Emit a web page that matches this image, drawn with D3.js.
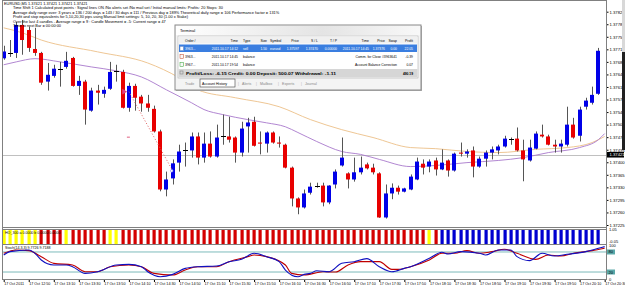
<!DOCTYPE html>
<html>
<head>
<meta charset="utf-8">
<script src="https://cdnjs.cloudflare.com/ajax/libs/d3/7.8.5/d3.min.js"></script>
<style>
  body { margin: 0; background: #fff; }
  text { font-family: "Liberation Sans", Arial, sans-serif; }
</style>
</head>
<body>
<div id="chart"></div>
<script>
const W = 625, H = 285;

// EURUSD M5, 17 Oct 2011, bars 12:30 .. 20:25
const openP  = [1.37690,1.37706,1.37705,1.37783,1.37769,1.37716,1.37705,1.37625,1.37641,1.37660,1.37666,1.37691,1.37613,1.37625,1.37544,1.37600,1.37591,1.37605,1.37655,1.37652,1.37552,1.37613,1.37583,1.37564,1.37549,1.37486,1.37324,1.37355,1.37399,1.37433,1.37433,1.37472,1.37413,1.37452,1.37416,1.37472,1.37472,1.37469,1.37427,1.37500,1.37513,1.37455,1.37452,1.37483,1.37455,1.37449,1.37385,1.37299,1.37274,1.37315,1.37335,1.37335,1.37288,1.37338,1.37391,1.37369,1.37352,1.37372,1.37394,1.37385,1.37369,1.37246,1.37313,1.37329,1.37318,1.37324,1.37352,1.37396,1.37388,1.37405,1.37380,1.37405,1.37377,1.37427,1.37424,1.37433,1.37388,1.37410,1.37427,1.37433,1.37444,1.37466,1.37466,1.37433,1.37405,1.37438,1.37477,1.37472,1.37449,1.37444,1.37449,1.37505,1.37474,1.37555,1.37566,1.37591];
const highP  = [1.37725,1.37741,1.37791,1.37797,1.37778,1.37775,1.37708,1.37677,1.37672,1.37680,1.37708,1.37694,1.37641,1.37630,1.37608,1.37616,1.37611,1.37680,1.37672,1.37658,1.37622,1.37619,1.37588,1.37588,1.37558,1.37491,1.37374,1.37408,1.37449,1.37455,1.37483,1.37483,1.37483,1.37486,1.37505,1.37533,1.37527,1.37472,1.37513,1.37524,1.37527,1.37486,1.37486,1.37486,1.37472,1.37452,1.37388,1.37302,1.37324,1.37343,1.37343,1.37343,1.37336,1.37380,1.37469,1.37372,1.37413,1.37416,1.37399,1.37396,1.37372,1.37338,1.37341,1.37335,1.37329,1.37366,1.37413,1.37408,1.37408,1.37413,1.37436,1.37408,1.37427,1.37455,1.37436,1.37444,1.37416,1.37433,1.37444,1.37449,1.37474,1.37469,1.37497,1.37463,1.37463,1.37486,1.37505,1.37477,1.37463,1.37463,1.37555,1.37524,1.37555,1.37580,1.37611,1.37719];
const lowP   = [1.37686,1.37694,1.37691,1.37700,1.37708,1.37697,1.37616,1.37600,1.37636,1.37611,1.37661,1.37611,1.37588,1.37505,1.37541,1.37561,1.37580,1.37602,1.37625,1.37550,1.37541,1.37544,1.37541,1.37541,1.37483,1.37319,1.37305,1.37338,1.37374,1.37388,1.37413,1.37394,1.37399,1.37413,1.37413,1.37449,1.37455,1.37399,1.37416,1.37427,1.37444,1.37422,1.37427,1.37452,1.37441,1.37383,1.37277,1.37255,1.37271,1.37310,1.37329,1.37277,1.37283,1.37327,1.37388,1.37327,1.37346,1.37366,1.37380,1.37366,1.37245,1.37243,1.37297,1.37310,1.37316,1.37322,1.37350,1.37366,1.37372,1.37363,1.37378,1.37360,1.37374,1.37416,1.37413,1.37358,1.37385,1.37388,1.37408,1.37422,1.37441,1.37449,1.37430,1.37347,1.37402,1.37436,1.37469,1.37447,1.37427,1.37427,1.37444,1.37466,1.37458,1.37547,1.37561,1.37588];
const closeP = [1.37709,1.37706,1.37783,1.37741,1.37719,1.37705,1.37622,1.37644,1.37661,1.37660,1.37683,1.37613,1.37627,1.37547,1.37600,1.37594,1.37602,1.37652,1.37655,1.37552,1.37613,1.37580,1.37564,1.37552,1.37486,1.37324,1.37352,1.37397,1.37430,1.37433,1.37472,1.37413,1.37452,1.37416,1.37469,1.37472,1.37463,1.37427,1.37494,1.37511,1.37446,1.37452,1.37483,1.37455,1.37452,1.37385,1.37299,1.37274,1.37313,1.37332,1.37335,1.37288,1.37335,1.37374,1.37413,1.37352,1.37372,1.37385,1.37383,1.37372,1.37246,1.37313,1.37329,1.37318,1.37327,1.37360,1.37402,1.37385,1.37402,1.37380,1.37399,1.37377,1.37424,1.37424,1.37430,1.37388,1.37410,1.37427,1.37436,1.37444,1.37466,1.37466,1.37433,1.37408,1.37441,1.37480,1.37472,1.37449,1.37444,1.37452,1.37505,1.37469,1.37547,1.37572,1.37588,1.37711];

// moving averages read at a few bars: [bar, price]
const maSlow = [[0,1.37775],[3,1.37761],[6,1.37741],[15,1.37708],[23,1.37677],[28,1.37636],[31,1.37602],[37,1.37580],[44,1.37555],[49,1.37519],[54,1.37491],[59,1.37469],[65,1.37441],[69,1.37438],[74,1.37430],[79,1.37427],[85,1.37436],[90,1.37441],[94,1.37455],[96,1.37472]];
const maFast = [[0,1.37672],[2,1.37680],[5,1.37689],[9,1.37680],[14,1.37666],[18,1.37655],[22,1.37638],[26,1.37602],[30,1.37566],[32,1.37547],[35,1.37533],[39,1.37519],[42,1.37510],[45,1.37499],[47,1.37483],[50,1.37458],[54,1.37430],[57,1.37422],[60,1.37408],[65,1.37388],[69,1.37391],[74,1.37399],[79,1.37405],[83,1.37413],[87,1.37427],[92,1.37441],[95,1.37463],[96,1.37480]];

// closed sell trade
const trade = { openBar: 20, openPrice: 1.37597, closeBar: 27, closePrice: 1.37376, sl: 1.37470 };
const bidPrice = 1.37421;

// signal histogram state per bar: Y yellow, R red, B blue
const signalState = "YYYYYYRRRRYRRRRRRYYRRRRRRRRRRRRRRRRRRRRRRRRRRRRRRRRRRRRRRRRRRRRRRRRRYRBBBBBBBBBBBBBBBBBBBBBBBBBB".split("");

// stochastic main / signal: [bar, value]
const stochMain = [[0,71],[1,81],[4,86],[5,76],[6,56],[8,41],[10,41],[11,36],[13,16],[15,21],[18,41],[20,43],[22,36],[23,21],[25,6],[27,13],[29,31],[31,36],[34,38],[36,51],[38,58],[40,76],[42,66],[44,51],[45,26],[47,6],[48,13],[49,16],[50,24],[52,21],[54,46],[56,51],[58,60],[60,36],[62,21],[64,31],[65,36],[68,61],[70,79],[71,74],[73,81],[76,76],[77,71],[79,86],[81,86],[82,66],[84,54],[86,76],[88,68],[90,73],[93,81],[95,91],[96,96]];
const stochSignal = [[0,76],[2,86],[4,84],[6,66],[8,46],[11,41],[13,21],[15,21],[17,36],[20,41],[22,36],[24,16],[27,11],[29,26],[31,36],[34,36],[36,51],[39,66],[40,71],[42,66],[45,41],[46,16],[48,11],[51,21],[53,20],[55,41],[57,51],[60,51],[62,28],[63,28],[65,36],[68,56],[70,76],[72,76],[74,84],[76,76],[78,81],[80,88],[82,76],[85,58],[87,71],[89,68],[91,76],[94,84],[96,91]];

const priceTicks = d3.range(0, 18).map(k => +(1.37820 - k * 0.00035).toFixed(5));
const timeLabels = ["17 Oct 2011","17 Oct 12:50","17 Oct 13:10","17 Oct 13:30","17 Oct 13:50","17 Oct 14:10","17 Oct 14:30","17 Oct 14:50","17 Oct 15:10","17 Oct 15:30","17 Oct 15:50","17 Oct 16:10","17 Oct 16:30","17 Oct 16:50","17 Oct 17:10","17 Oct 17:30","17 Oct 17:50","17 Oct 18:10","17 Oct 18:30","17 Oct 18:50","17 Oct 19:10","17 Oct 19:30","17 Oct 19:50","17 Oct 20:10","17 Oct 20:30"];

const headerLines = [
  "EURUSD,M5  1.37421 1.37421 1.37421 1.37421",
  "Time Shift 1 Calculated pivot points : Signal lines ON /No alerts set /No mail set / Initial manual limits: Profits: 20  Stops: 30",
  "Average daily range over: 3 years = 136 / 200 days = 143 / 30 days = 111 / Previous day = 189%  Theoretical daily range = 106 Performance factor = 131%",
  "Profit and stop equivalents for 5,10,20,30 pips using Manual limit settings: 5, 10, 20, 30 (1.00 x Stake)",
  "Over the last 4 candles - Average range = 9 : Candle Movement = -5: Current range = 47",
  "Time to next Bar = 00:00:00"
];

// terminal history table
const termHeader = ["Order  /", "Time", "Type", "Size", "Symbol", "Price", "S / L", "T / P", "Time", "Price", "Swap", "Profit"];
const termRows = [
  ["3963...", "2011.10.17 14:12", "sell", "1.50", "eurusd", "1.37597", "1.37470", "0.00000", "2011.10.17 14:45", "1.37376", "0.00", "22.05"],
  ["3963...", "2011.10.17 14:45", "balance", "", "", "", "", "", "", "", "Comm. for Close #3963641", "-0.39"],
  ["3967...", "2011.10.17 19:54", "balance", "", "", "", "", "", "", "", "Account Balance Correction", "0.07"]
];
const termSummary = ["Profit/Loss: -6.15  Credit: 0.00  Deposit: 500.07  Withdrawal: -1.11", "490.19"];
const termTabs = ["Trade", "Account History", "Alerts", "Mailbox", "Experts", "Journal"];

const svg = d3.select("#chart").append("svg")
  .attr("width", W).attr("height", H);

svg.append("rect").attr("width", W).attr("height", H).attr("fill", "#fff");

const plotRight = 606;
const x = d3.scaleLinear().domain([0, 96]).range([3.7, 3.7 + 6.26 * 96]);
const y = d3.scaleLinear().domain([1.37225, 1.37820]).range([225, 11.7]);
const ys = d3.scaleLinear().domain([0, 100]).range([278.7, 245.3]);

svg.append("clipPath").attr("id", "mainclip")
  .append("rect").attr("x", 3).attr("y", 1).attr("width", plotRight - 3).attr("height", 226);
svg.append("clipPath").attr("id", "stclip")
  .append("rect").attr("x", 3).attr("y", 245).attr("width", plotRight - 3).attr("height", 35);

const main = svg.append("g").attr("clip-path", "url(#mainclip)");

// bid line
main.append("line")
  .attr("x1", 3).attr("x2", plotRight)
  .attr("y1", Math.round(y(bidPrice)) + 0.5).attr("y2", Math.round(y(bidPrice)) + 0.5)
  .attr("stroke", "#c0c0c0");

// moving averages
const maLine = d3.line().x(d => x(d[0])).y(d => y(d[1])).curve(d3.curveMonotoneX);
main.append("path").attr("d", maLine(maSlow)).attr("fill", "none")
  .attr("stroke", "#ecc088").attr("stroke-width", 0.9);
main.append("path").attr("d", maLine(maFast)).attr("fill", "none")
  .attr("stroke", "#a878cc").attr("stroke-width", 0.9);

// candles
const candles = d3.range(openP.length).map(i => ({ i, o: openP[i], h: highP[i], l: lowP[i], c: closeP[i] }));

main.selectAll(".wick").data(candles).join("rect")
  .attr("class", "wick")
  .attr("x", d => Math.round(x(d.i)))
  .attr("width", 1)
  .attr("y", d => y(d.h))
  .attr("height", d => y(d.l) - y(d.h))
  .attr("fill", "#555");

main.selectAll(".body").data(candles).join("rect")
  .attr("class", "body")
  .attr("x", d => Math.round(x(d.i)) - 2)
  .attr("width", d => d.o === d.c ? 5 : 4)
  .attr("y", d => d.o === d.c ? Math.round(y(d.o)) : y(Math.max(d.o, d.c)))
  .attr("height", d => d.o === d.c ? 1 : Math.max(1, Math.abs(y(d.o) - y(d.c))))
  .attr("fill", d => d.c > d.o ? "#0000e8" : d.c < d.o ? "#e80000" : "#000");

// trade markers
main.append("line")
  .attr("x1", x(trade.openBar)).attr("y1", y(trade.openPrice))
  .attr("x2", x(trade.closeBar)).attr("y2", y(trade.closePrice))
  .attr("stroke", "#e06060").attr("stroke-width", 1).attr("stroke-dasharray", "1,2");
main.append("path")
  .attr("d", d3.symbol(d3.symbolTriangle, 14)())
  .attr("transform", `translate(${x(trade.openBar) - 5},${y(trade.openPrice)}) rotate(90)`)
  .attr("fill", "#e04080");
main.append("line")
  .attr("x1", x(trade.openBar) - 2).attr("x2", x(trade.openBar) + 1)
  .attr("y1", y(trade.sl)).attr("y2", y(trade.sl))
  .attr("stroke", "#e06080");
main.append("circle")
  .attr("cx", x(trade.closeBar) - 1).attr("cy", y(trade.closePrice)).attr("r", 1.3)
  .attr("fill", "#fff").attr("stroke", "#8080ff").attr("stroke-width", 0.6);

// header texts
headerLines.forEach((t, k) => {
  svg.append("text")
    .attr("x", k === 0 ? 4 : 13).attr("y", 4.5 + k * 4.5)
    .attr("font-size", 3.9).attr("fill", "#000")
    .text(t);
});

// price axis
const yAxis = d3.axisRight(y).tickValues(priceTicks).tickSize(2).tickFormat(d3.format(".5f"));
const ya = svg.append("g").attr("transform", `translate(${plotRight + 0.5},0)`).call(yAxis);
ya.select(".domain").remove();
ya.selectAll("text").attr("font-size", 4.2).attr("x", 3).attr("fill", "#000");
ya.selectAll("line").attr("stroke", "#000");

// bid label
svg.append("rect").attr("x", plotRight + 1).attr("y", y(bidPrice) - 2.8)
  .attr("width", 17).attr("height", 5.6).attr("fill", "#000");
svg.append("text").attr("x", plotRight + 3.5).attr("y", y(bidPrice) + 1.5)
  .attr("font-size", 4.2).attr("fill", "#fff").text(d3.format(".5f")(bidPrice));

// signal histogram panel
svg.append("g").selectAll("rect").data(signalState).join("rect")
  .attr("x", (d, i) => Math.round(x(i)) - 1.5)
  .attr("width", 3.2)
  .attr("y", 230).attr("height", 14)
  .attr("fill", d => d === "Y" ? "#ffff00" : d === "R" ? "#d40000" : "#0000d0");
svg.append("text").attr("x", 5).attr("y", 233.5).attr("font-size", 3.6)
  .text("HO_300 a 0.0000 b 0.0000 0.0000");
svg.append("text").attr("x", plotRight + 3).attr("y", 231).attr("font-size", 4).text("1.05");
svg.append("text").attr("x", plotRight + 3).attr("y", 243).attr("font-size", 4).text("-0.05");

// stochastic panel
const st = svg.append("g").attr("clip-path", "url(#stclip)");
[80, 20].forEach(v => {
  st.append("line").attr("x1", 3).attr("x2", plotRight)
    .attr("y1", ys(v)).attr("y2", ys(v)).attr("stroke", "#5aa8a8").attr("stroke-width", 0.8);
});
const stLine = d3.line().x(d => x(d[0])).y(d => ys(d[1])).curve(d3.curveMonotoneX);
st.append("path").attr("d", stLine(stochSignal)).attr("fill", "none").attr("stroke", "#c00000").attr("stroke-width", 1.1);
st.append("path").attr("d", stLine(stochMain)).attr("fill", "none").attr("stroke", "#1010c0").attr("stroke-width", 1.1);
svg.append("text").attr("x", 5).attr("y", 249).attr("font-size", 3.6)
  .text("Stoch(14,3,3) 9.7726 9.7188");
svg.append("text").attr("x", plotRight + 3).attr("y", 247).attr("font-size", 4).text("100");
[80, 20].forEach(v => {
  svg.append("rect").attr("x", plotRight + 1).attr("y", ys(v) - 2.5).attr("width", 8).attr("height", 5).attr("fill", "#5aa8a8");
  svg.append("text").attr("x", plotRight + 2.5).attr("y", ys(v) + 1.5).attr("font-size", 4).attr("fill", "#000").text(v);
});
svg.append("text").attr("x", plotRight + 3).attr("y", 281).attr("font-size", 4).text("0");

// frames
const frame = svg.append("g").attr("fill", "none").attr("stroke", "#808080").attr("stroke-width", 1);
frame.append("line").attr("x1", 2.5).attr("x2", 2.5).attr("y1", 0).attr("y2", 280);
frame.append("line").attr("x1", plotRight + 0.5).attr("x2", plotRight + 0.5).attr("y1", 0).attr("y2", 280);
[0.5, 227.5, 229.5, 244.5, 279.5].forEach(v => {
  frame.append("line").attr("x1", 2.5).attr("x2", plotRight + 0.5).attr("y1", v).attr("y2", v);
});

// time axis
const tickBars = d3.range(0, 97, 4);
const xAxis = d3.axisBottom(x).tickValues(tickBars).tickSize(2)
  .tickFormat((d, k) => timeLabels[k]);
const xa = svg.append("g").attr("transform", "translate(0,280)").call(xAxis);
xa.select(".domain").remove();
xa.selectAll("text").attr("font-size", 3.7).attr("text-anchor", "start").attr("dy", 0).attr("y", 4.6).attr("fill", "#000");
xa.selectAll("line").attr("stroke", "#000");

// side strip
svg.append("rect").attr("x", 622).attr("y", 0).attr("width", 3).attr("height", 52).attr("fill", "#d8d8d8");
svg.append("rect").attr("x", 622).attr("y", 52).attr("width", 3).attr("height", 98).attr("fill", "#202020");

// terminal window
const term = svg.append("g").attr("transform", "translate(175,25)");
const tw = 246, th = 65;
term.append("rect").attr("x", 1).attr("y", 1).attr("width", tw).attr("height", th).attr("fill", "#b0b0b0");
term.append("rect").attr("width", tw).attr("height", th).attr("fill", "#f4f4f4").attr("stroke", "#8a8a8a");
const grad = svg.append("defs").append("linearGradient").attr("id", "tgrad").attr("x1", 0).attr("x2", 1);
grad.append("stop").attr("offset", "0%").attr("stop-color", "#ffffff");
grad.append("stop").attr("offset", "60%").attr("stop-color", "#e4e4e4");
grad.append("stop").attr("offset", "100%").attr("stop-color", "#f8f8f8");
term.append("rect").attr("x", 1).attr("y", 1).attr("width", tw - 2).attr("height", 9).attr("fill", "url(#tgrad)");
term.append("text").attr("x", 5).attr("y", 7.3).attr("font-size", 4).text("Terminal");

term.append("rect").attr("x", 3).attr("y", 11).attr("width", tw - 6).attr("height", 42).attr("fill", "#fff").attr("stroke", "#a0a0a0").attr("stroke-width", 0.5);
term.append("rect").attr("x", 3.5).attr("y", 11.5).attr("width", tw - 7).attr("height", 7).attr("fill", "#f0f0f0");
term.append("rect").attr("x", 4).attr("y", 19.5).attr("width", tw - 8).attr("height", 7.5).attr("fill", "#3a7ee0");
term.append("rect").attr("x", 3.5).attr("y", 44).attr("width", tw - 7).attr("height", 8.5).attr("fill", "#d6d6d6");

const cell = (txt, cx, cy, anchor, opts = {}) => term.append("text")
  .attr("x", cx).attr("y", cy).attr("font-size", opts.size || 3.4)
  .attr("text-anchor", anchor).attr("fill", opts.fill || "#000")
  .attr("font-weight", opts.bold ? "bold" : "normal").text(txt);

// column anchors inside the window
const colX = [10, 63, 68, 92, 95, 124, 143, 162, 194, 210, 222, 238];
const colA = ["start", "end", "start", "end", "start", "end", "end", "end", "end", "end", "end", "end"];
termHeader.forEach((t, k) => cell(t, colX[k], 16.5, colA[k]));

termRows.forEach((r, k) => {
  const ry = 25 + k * 8;
  const f = k === 0 ? "#fff" : "#000";
  term.append("rect").attr("x", 5).attr("y", ry - 3.6).attr("width", 3.5).attr("height", 4.2)
    .attr("fill", k === 0 ? "#fff" : "#f8f8f8")
    .attr("stroke", k === 1 ? "#c04020" : k === 2 ? "#30a030" : "#6080c0").attr("stroke-width", 0.5);
  r.forEach((t, c) => { if (t) cell(t, colX[c], ry, colA[c], { fill: f }); });
});
term.append("rect").attr("x", 5).attr("y", 46).attr("width", 3).attr("height", 3).attr("fill", "none").attr("stroke", "#777").attr("stroke-width", 0.5);
cell(termSummary[0], 11, 49.8, "start", { bold: true, size: 3.3 })
  .attr("textLength", 150).attr("lengthAdjust", "spacingAndGlyphs");
cell(termSummary[1], colX[11], 49.8, "end", { bold: true, size: 3.3 });

// tabs
const tabX = [10, 27, 67, 85, 107, 130];
term.append("rect").attr("x", 25).attr("y", 54).attr("width", 35).attr("height", 8).attr("fill", "#fff").attr("stroke", "#404040").attr("stroke-width", 0.6);
termTabs.forEach((t, k) => {
  cell(t, tabX[k], 59.8, "start", { fill: k === 1 ? "#000" : "#888", size: 3.6 });
  if (k > 1) cell("|", tabX[k] - 4, 59.8, "start", { fill: "#aaa" });
});
</script>
</body>
</html>
